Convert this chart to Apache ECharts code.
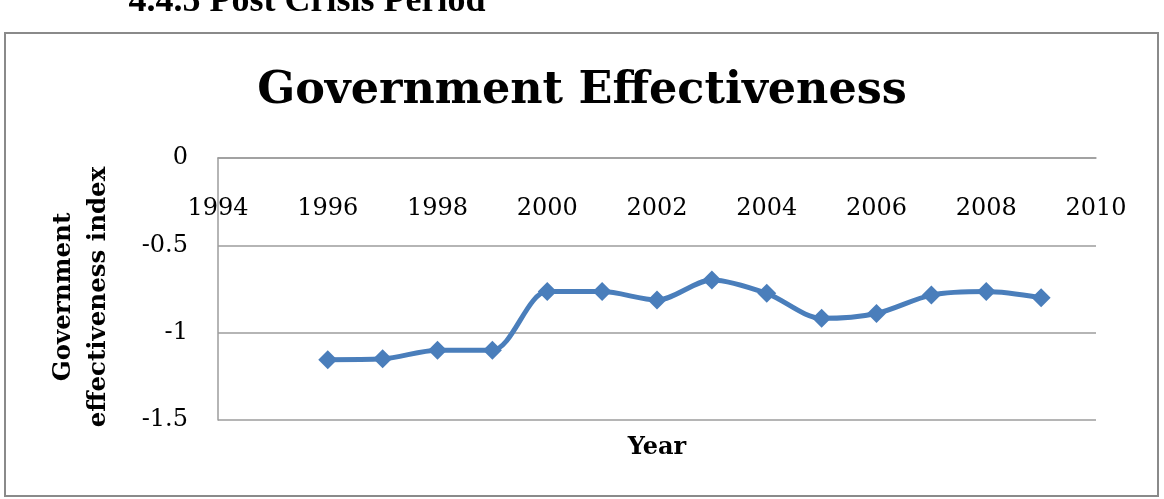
<!DOCTYPE html>
<html>
<head>
<meta charset="utf-8">
<script src="https://cdn.jsdelivr.net/npm/echarts@6/dist/echarts.min.js"></script>
<style>
    html, body { margin: 0; padding: 0; background: #fff; }
    #main { width: 1164px; height: 499px; }
</style>
</head>
<body>
<div id="main"></div>
<script>
    // values
    var years = [1996, 1997, 1998, 1999, 2000, 2001, 2002, 2003, 2004, 2005, 2006, 2007, 2008, 2009];
    var effectiveness = [-1.155, -1.15, -1.10, -1.10, -0.765, -0.765, -0.813, -0.698, -0.775, -0.918, -0.89, -0.785, -0.765, -0.80];
    var yearTicks = [1994, 2010, 2];
    var indexTicks = [-1.5, 0, 0.5];

    var serif = 'DejaVu Serif';
    var gridColor = '#9c9c9c';
    var lineBlue = '#4a7ebb';

    var myChart = echarts.init(document.getElementById('main'));

    var option = {
        backgroundColor: '#fff',
        animation: false,
        title: {
            text: 'Government Effectiveness',
            left: 'center',
            top: 64,
            textStyle: {
                fontFamily: serif,
                fontWeight: 'bold',
                fontSize: 44.5,
                color: '#000'
            }
        },
        graphic: [
            {
                type: 'rect',
                z: -10,
                shape: { x: 5, y: 33, width: 1153, height: 463 },
                style: { fill: 'none', stroke: '#8a8a8a', lineWidth: 2 }
            },
            {
                type: 'text',
                x: 307,
                y: 20,
                style: {
                    text: '4.4.5 Post Crisis Period',
                    font: 'bold 36px "Liberation Serif"',
                    fill: '#000',
                    align: 'center',
                    verticalAlign: 'bottom'
                }
            }
        ],
        grid: {
            left: 218,
            right: 68,
            top: 158,
            bottom: 79,
            outerBoundsMode: 'none'
        },
        xAxis: [
            {
                // year labels hang under the zero line at the top
                type: 'value',
                position: 'top',
                min: yearTicks[0],
                max: yearTicks[1],
                interval: yearTicks[2],
                axisLine: { show: true, lineStyle: { color: gridColor, width: 1.5 } },
                axisTick: { show: false },
                splitLine: { show: false },
                axisLabel: {
                    inside: true,
                    margin: 39,
                    fontFamily: serif,
                    fontSize: 24,
                    color: '#000',
                    formatter: function (v) { return String(v); }
                }
            },
            {
                // carries only the axis title under the plot
                type: 'value',
                position: 'bottom',
                min: yearTicks[0],
                max: yearTicks[1],
                interval: yearTicks[2],
                name: 'Year',
                nameLocation: 'middle',
                nameGap: 16,
                nameTextStyle: {
                    fontFamily: serif,
                    fontWeight: 'bold',
                    fontSize: 24,
                    color: '#000'
                },
                axisLine: { show: false, onZero: false },
                axisTick: { show: false },
                splitLine: { show: false },
                axisLabel: { show: false }
            }
        ],
        yAxis: {
            type: 'value',
            min: indexTicks[0],
            max: indexTicks[1],
            interval: indexTicks[2],
            name: 'Government\neffectiveness index',
            nameLocation: 'middle',
            nameRotate: 90,
            nameGap: 102,
            nameTextStyle: {
                fontFamily: serif,
                fontWeight: 'bold',
                fontSize: 24.5,
                lineHeight: 35,
                padding: [0, 16, 0, 0],
                color: '#000'
            },
            axisLine: { show: true, onZero: false, lineStyle: { color: gridColor, width: 1.5 } },
            axisTick: { show: false },
            splitLine: { show: true, lineStyle: { color: gridColor, width: 1.5 } },
            axisLabel: {
                margin: 30,
                fontFamily: serif,
                fontSize: 24,
                color: '#000'
            }
        },
        series: [
            {
                type: 'line',
                xAxisIndex: 0,
                smooth: 0.3,
                symbol: 'diamond',
                symbolSize: 19,
                lineStyle: { color: lineBlue, width: 5 },
                itemStyle: { color: lineBlue },
                data: years.map(function (y, i) {
                    return [y, effectiveness[i]];
                })
            }
        ]
    };
    myChart.setOption(option, true);
</script>
</body>
</html>
